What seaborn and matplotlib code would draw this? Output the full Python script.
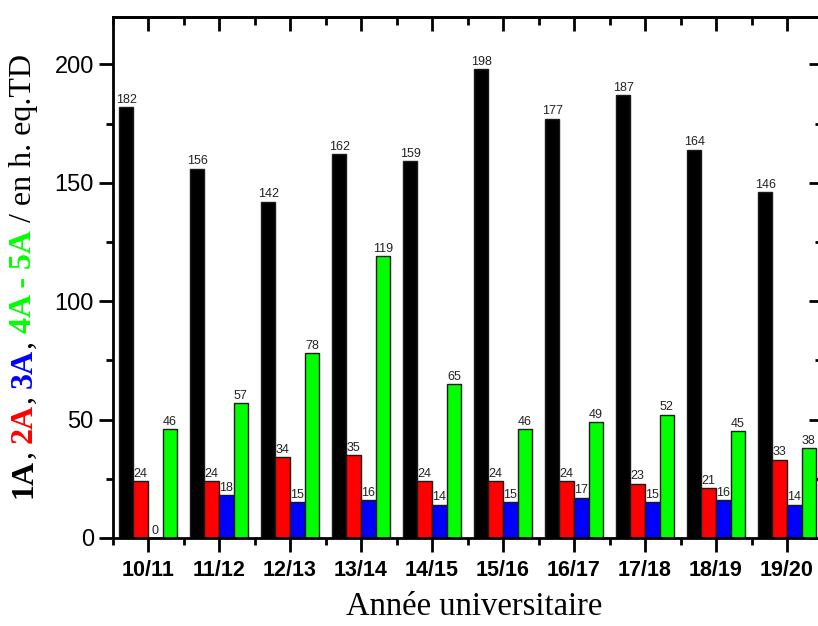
import numpy as np
import pandas as pd
import seaborn as sns
import matplotlib.pyplot as plt

annees = ['10/11', '11/12', '12/13', '13/14', '14/15', '15/16', '16/17', '17/18', '18/19', '19/20']
niveaux = ['1A', '2A', '3A', '4A - 5A']
h_1a = [182, 156, 142, 162, 159, 198, 177, 187, 164, 146]
h_2a = [24, 24, 34, 35, 24, 24, 24, 23, 21, 33]
h_3a = [0, 18, 15, 16, 14, 15, 17, 15, 16, 14]
h_45a = [46, 57, 78, 119, 65, 46, 49, 52, 45, 38]
couleurs = ['#000000', '#ff0000', '#0000ff', '#00ff00']

df = pd.DataFrame({
    'annee': annees * 4,
    'niveau': [n for n in niveaux for _ in annees],
    'heures': h_1a + h_2a + h_3a + h_45a,
})

sns.set_style('ticks')
plt.rcParams['font.family'] = ['Liberation Sans', 'DejaVu Sans']
plt.rcParams['text.color'] = 'black'
plt.rcParams['axes.edgecolor'] = 'black'
plt.rcParams['xtick.color'] = 'black'
plt.rcParams['ytick.color'] = 'black'

fig = plt.figure(figsize=(8.18, 6.26), dpi=100)
ax = fig.add_axes([112.5 / 818, 88 / 626, 710 / 818, 521 / 626])

sns.barplot(data=df, x='annee', y='heures', hue='niveau', palette=couleurs,
            saturation=1, width=0.82, edgecolor='#1a1a1a', linewidth=1,
            errorbar=None, legend=False, ax=ax)

for cont in ax.containers:
    ax.bar_label(cont, fontsize=9, padding=1, color='#222222')

ax.set_xlim(-0.5, 9.5)
ax.set_ylim(0, 220)
ax.set_yticks([0, 50, 100, 150, 200])
ax.set_yticks(np.arange(25, 220, 50), minor=True)
ax.set_xticks(range(10))
ax.set_xticklabels(annees, fontweight='bold', fontsize=15.5)
ax.set_xticks(np.arange(-0.5, 10, 1), minor=True)
ax.tick_params(axis='y', labelsize=17, width=2, length=10, direction='out')
ax.tick_params(axis='x', width=2, length=10, direction='out', pad=6)
ax.tick_params(which='minor', width=2, length=5)
ax.set_xlabel('')
ax.set_ylabel('')

for s in ax.spines.values():
    s.set_linewidth(2)
ax.spines['top'].set_visible(True)
ax.spines['right'].set_visible(True)

# ticks on top and right pointing inside
top = ax.secondary_xaxis('top')
top.set_xticks(range(10))
top.set_xticklabels([])
top.set_xticks(np.arange(-0.5, 10, 1), minor=True)
top.tick_params(direction='in', width=2, length=10)
top.tick_params(which='minor', direction='in', width=2, length=6)
top.spines['top'].set_linewidth(2)

right = ax.secondary_yaxis('right')
right.set_yticks([0, 50, 100, 150, 200])
right.set_yticklabels([])
right.set_yticks(np.arange(25, 220, 50), minor=True)
right.tick_params(direction='in', width=2, length=10)
right.tick_params(which='minor', direction='in', width=2, length=6)

fig.text(474 / 818, 1 - 607 / 626, 'Année universitaire', family='Liberation Serif',
         fontsize=23.5, ha='center', va='center')

# multicoloured y label
morceaux = [('1A', 'black', 'bold'), (', ', 'black', 'normal'),
            ('2A', 'red', 'bold'), (', ', 'black', 'normal'),
            ('3A', 'blue', 'bold'), (', ', 'black', 'normal'),
            ('4A - 5A', '#00ff00', 'bold'), (' / en h. eq.TD', 'black', 'normal')]
prev = None
for txt, c, w in morceaux:
    if prev is None:
        prev = fig.text(24 / 818, 1 - 498 / 626, txt, color=c, fontweight=w,
                        family='Liberation Serif', fontsize=23, rotation=90,
                        ha='center', va='bottom')
    else:
        prev = ax.annotate(txt, xy=(0.5, 1), xycoords=prev, color=c, fontweight=w,
                           family='Liberation Serif', fontsize=23, rotation=90,
                           ha='center', va='bottom')

fig.savefig('out.png', dpi=100)
